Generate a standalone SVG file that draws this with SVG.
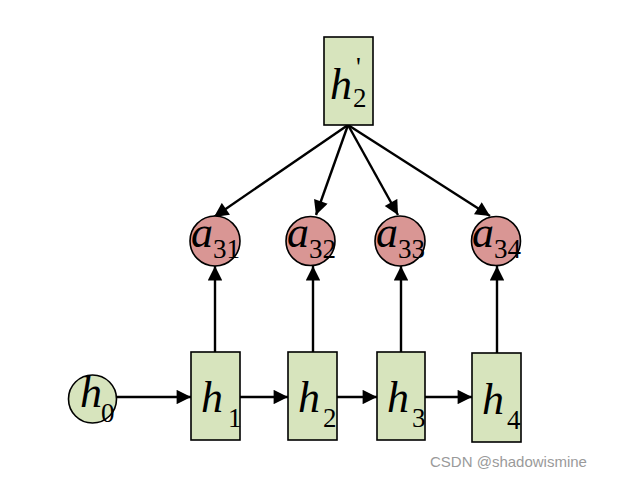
<svg xmlns="http://www.w3.org/2000/svg" width="622" height="477" viewBox="0 0 622 477">
<style>
.box{fill:#d7e4bd;stroke:#000;stroke-width:1.6}
.cg{fill:#d7e4bd;stroke:#000;stroke-width:1.6}
.cp{fill:#d99694;stroke:#000;stroke-width:1.6}
.v{font-family:"Liberation Serif",serif;font-style:italic;font-size:44px;fill:#000}
.s{font-family:"Liberation Serif",serif;font-size:27px;fill:#000}
.e{stroke:#000;stroke-width:2.4;fill:none;marker-end:url(#ah)}
.wm{font-family:"Liberation Sans",Arial,sans-serif;font-size:15px;fill:#9a9a9a}
</style>
<defs>
<marker id="ah" viewBox="0 0 10 10" refX="10" refY="5" markerWidth="6.5" markerHeight="6" markerUnits="strokeWidth" orient="auto">
<path d="M0,0 L10,5 L0,10 z" fill="#000"/>
</marker>
</defs>
<rect width="622" height="477" fill="#fff"/>
<g id="connectors">
<line class="e" x1="117" y1="397" x2="191" y2="397"/>
<line class="e" x1="240" y1="397" x2="288" y2="397"/>
<line class="e" x1="337" y1="397" x2="377" y2="397"/>
<line class="e" x1="425" y1="397" x2="472" y2="397"/>
<line class="e" x1="215" y1="352" x2="215" y2="266"/>
<line class="e" x1="313" y1="352" x2="313" y2="266"/>
<line class="e" x1="401" y1="352" x2="401" y2="266"/>
<line class="e" x1="497" y1="353" x2="497" y2="266"/>
<line class="e" x1="348" y1="125" x2="214" y2="217"/>
<line class="e" x1="348" y1="125" x2="316" y2="215"/>
<line class="e" x1="348" y1="125" x2="398" y2="215"/>
<line class="e" x1="348" y1="125" x2="490" y2="216"/>
</g>
<g id="h2p">
<rect class="box" x="324" y="37" width="49" height="88"/>
<text class="v" x="330" y="99">h</text>
<text class="s" x="353" y="107">2</text>
<text class="s" x="356" y="76" font-size="20">'</text>
</g>
<g id="a31">
<circle class="cp" cx="215" cy="241" r="25"/>
<text class="v" x="191" y="247">a</text>
<text class="s" x="213" y="258">31</text>
</g>
<g id="a32">
<circle class="cp" cx="310.5" cy="241" r="24.5"/>
<text class="v" x="287" y="247">a</text>
<text class="s" x="309" y="258">32</text>
</g>
<g id="a33">
<circle class="cp" cx="400" cy="241" r="25"/>
<text class="v" x="376" y="247">a</text>
<text class="s" x="398" y="258">33</text>
</g>
<g id="a34">
<circle class="cp" cx="496" cy="241" r="24.5"/>
<text class="v" x="472" y="247">a</text>
<text class="s" x="494" y="258">34</text>
</g>
<g id="h0">
<circle class="cg" cx="92.5" cy="399" r="24"/>
<text class="v" x="80" y="407">h</text>
<text class="s" x="101" y="422">0</text>
</g>
<g id="h1">
<rect class="box" x="191" y="352" width="49" height="88"/>
<text class="v" x="201" y="412">h</text>
<text class="s" x="228" y="427">1</text>
</g>
<g id="h2">
<rect class="box" x="288" y="352" width="49" height="88"/>
<text class="v" x="298" y="412">h</text>
<text class="s" x="323" y="427">2</text>
</g>
<g id="h3">
<rect class="box" x="377" y="352" width="48" height="88"/>
<text class="v" x="387" y="412">h</text>
<text class="s" x="412" y="427">3</text>
</g>
<g id="h4">
<rect class="box" x="472" y="353" width="49" height="89"/>
<text class="v" x="482" y="414">h</text>
<text class="s" x="507" y="429">4</text>
</g>
<text class="wm" x="430" y="467">CSDN @shadowismine</text>
</svg>
